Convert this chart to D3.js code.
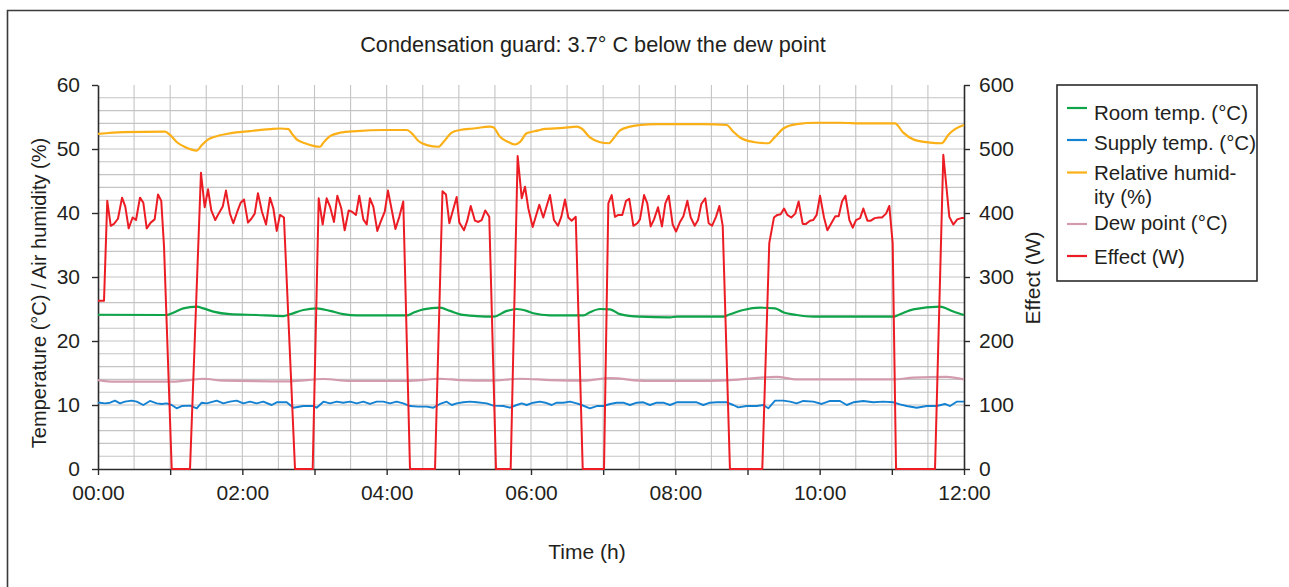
<!DOCTYPE html>
<html>
<head>
<meta charset="utf-8">
<script src="https://cdn.jsdelivr.net/npm/d3@7"></script>
<style>
  body { margin: 0; background: #fff; overflow: hidden; }
  svg { display: block; }
  svg text { font-family: "Liberation Sans", Arial, Helvetica, sans-serif; fill: #231f20; }
</style>
</head>
<body>
<svg id="chart" width="1289" height="587"></svg>
<script>
// all series are [minute after 00:00, value]
const roomTemp = [[0,24.1],[57,24.06],[62.6,24.4],[70.9,25.1],[82.1,25.36],[87.5,25.1],[95.9,24.6],[109.7,24.2],[131.9,24.06],[154.1,23.9],[159.6,24.17],[170.7,24.84],[181.8,25.1],[192.9,24.7],[203.9,24.2],[215.1,24.0],[256.7,24.0],[262.1,24.4],[270.5,24.95],[284.3,25.2],[292.7,24.7],[301,24.17],[314.9,23.9],[328.7,23.8],[339.8,24.7],[348.1,25.0],[356.4,24.7],[361.9,24.33],[375.8,24.0],[403.5,24.0],[409,24.5],[417.4,25.0],[425.7,24.95],[434,24.2],[450.6,23.8],[475.6,23.7],[481.1,23.8],[519.9,23.8],[525.4,24.17],[536.5,24.84],[550.4,25.2],[562.9,25.1],[569.8,24.5],[580.9,24.06],[594.7,23.8],[661.2,23.8],[666.8,24.17],[677.8,24.95],[700,25.36],[711.1,24.6],[720,24.06]];

const supplyTemp = [[0,10.36],[1.7,10.36],[5.8,10.26],[10,10.36],[14.1,10.68],[18.3,10.26],[22.4,10.52],[28,10.68],[32.2,10.52],[37.7,10.0],[43.2,10.63],[48.8,10.26],[53,10.16],[57.1,10.26],[61.3,10.0],[65.4,9.48],[69.6,9.84],[76.5,9.9],[82.1,9.48],[86.2,10.36],[90.4,10.26],[98.7,10.68],[104.2,10.26],[109.7,10.52],[115.3,10.68],[120.8,10.26],[126.4,10.52],[131.9,10.26],[137.4,10.52],[144.4,10.0],[148.6,10.42],[156.9,10.42],[162.4,9.58],[170.7,9.84],[179,9.84],[181.8,9.58],[187.4,10.52],[192.9,10.26],[198.5,10.52],[203.9,10.36],[209.5,10.52],[215.1,10.26],[220.6,10.52],[226.1,10.16],[231.7,10.52],[237.2,10.52],[242.8,10.26],[248.3,10.52],[253.8,10.26],[259.4,9.84],[266.3,9.74],[273.3,9.74],[278.8,9.58],[284.3,10.16],[289.9,10.52],[294.1,10.0],[298.2,10.26],[303.7,10.42],[309.3,10.52],[314.9,10.42],[323.2,10.26],[328.7,9.9],[337,9.84],[342.5,9.58],[348.1,10.0],[352.3,10.26],[356.4,10.0],[361.9,10.36],[367.5,10.52],[371.9,10.36],[377.2,10.0],[381.4,10.36],[386.9,10.36],[392.4,10.52],[398,10.26],[402.1,10.0],[409,9.48],[414.6,9.84],[420.1,9.84],[425.7,10.16],[431.2,10.36],[436.7,10.36],[442.3,10.0],[447.9,10.36],[453.4,10.42],[458.9,10.0],[464.5,10.36],[470,10.36],[475.6,10.0],[481.1,10.42],[489.4,10.42],[497.8,10.42],[503.2,10.0],[508.8,10.36],[514.4,10.42],[522.7,10.42],[528.2,10.0],[532.3,9.63],[539.3,9.84],[547.6,9.84],[553.1,10.0],[557.3,9.48],[562.9,10.68],[569.8,10.68],[575.3,10.52],[580.9,10.26],[586.4,10.63],[594.7,10.52],[601.7,10.16],[608.6,10.63],[616.9,10.63],[622.5,10.0],[628,10.42],[636.3,10.63],[644.6,10.42],[652.9,10.52],[661.2,10.42],[666.8,10.1],[672.4,9.84],[680.7,9.58],[689,9.84],[697.3,9.84],[704.2,10.16],[708.4,9.84],[713.9,10.52],[720,10.52]];

const relHumidity = [[0,52.35],[21,52.65],[55.7,52.7],[59.9,52.2],[65.4,51.1],[72.3,50.3],[82.1,49.75],[86.2,50.6],[91.7,51.5],[98.7,52.0],[109.7,52.45],[126.4,52.8],[143,53.1],[151.3,53.2],[158.3,53.1],[161,52.45],[165.2,51.5],[172.1,50.9],[179,50.5],[184.6,50.35],[187.4,51.0],[192.9,52.0],[201.3,52.55],[215.1,52.8],[237.3,52.97],[256.7,52.97],[260.9,52.45],[266.4,51.25],[273.4,50.6],[283,50.35],[287.2,51.1],[294.1,52.55],[301,52.97],[312.1,53.2],[325.9,53.5],[328.7,53.4],[334.2,51.9],[341.2,51.1],[346.7,50.7],[350.9,51.1],[356.4,52.45],[366.1,52.9],[370.2,53.1],[386.9,53.3],[398,53.5],[402.1,53.2],[409,51.8],[417.4,51.05],[424.8,50.9],[427.9,51.5],[434,52.9],[442.3,53.5],[450.6,53.75],[464.5,53.9],[503.2,53.9],[522.7,53.75],[528.2,52.7],[533.8,51.8],[544.8,51.1],[557.3,50.9],[562.9,51.9],[569.8,53.2],[580.9,53.9],[597.5,54.1],[616.9,54.1],[636.3,54.0],[662.6,54.0],[669.5,52.55],[677.8,51.5],[691.7,51.0],[701.5,50.9],[706.9,52.2],[712.5,53.1],[720,53.75]];

const dewPoint = [[0,13.9],[13.9,13.65],[62.6,13.65],[76.5,13.9],[87.5,14.1],[104.2,13.8],[159.6,13.7],[187.4,14.06],[209.5,13.75],[256.7,13.75],[284.3,14.1],[301,13.9],[325.9,13.8],[350.9,14.1],[375.8,13.9],[403.5,13.8],[425.7,14.2],[456.2,13.75],[497.7,13.75],[525.4,13.9],[564.3,14.4],[580.9,14.0],[661.2,14.0],[677.8,14.27],[705.6,14.4],[720,14.0]];

const effect = [[0,263],[5,263],[7.7,419],[10.6,380],[13.3,383],[16.6,391],[20,424],[22.7,410],[25.5,376],[28.8,393],[31.6,389],[34.9,424],[37.7,416],[40.5,376],[43.8,385],[47.1,390],[49.9,429],[52.6,419],[54.9,347],[61.3,0],[76.5,0],
  [85.6,463],[88.7,409],[91.5,437],[94.2,404],[97.5,389],[100.3,399],[103.7,410],[106.4,435],[109.7,399],[112.5,384],[115.8,402],[118.6,416],[121.4,421],[124.7,385],[127.5,391],[130.3,399],[133,431],[136.3,402],[139.7,382],[143,424],[145.8,407],[148.6,372],[151.3,397],[154.6,393],[163.8,0],[178.5,0],
  [183.5,423],[186.8,382],[190.1,423],[192.9,410],[196.2,386],[199,427],[202.3,407],[205.1,373],[208.4,404],[211.2,402],[214.5,397],[217.2,427],[220.6,390],[223.4,382],[226.1,423],[228.9,410],[232.2,372],[235,386],[238.4,402],[241.1,435],[247.3,375],[250.5,394],[253.8,418],[259.4,0],[280.2,0],
  [286.4,434],[289.3,429],[292.1,384],[298.2,425],[300.4,385],[304.3,373],[307,388],[309.9,411],[313.4,388],[316.2,386],[319,389],[322,404],[325.3,394],[330.9,0],[343.1,0],
  [348.9,489],[352.3,423],[355,441],[357.8,407],[361.4,378],[366.9,413],[370.2,393],[375.8,428],[379.1,389],[382.4,380],[385.2,394],[388.3,421],[391,393],[393.8,388],[397.2,394],[403,0],[420.7,0],
  [424.3,415],[427.1,428],[429.8,394],[432.6,397],[435.9,397],[439,419],[441.7,422],[445.1,380],[448.4,384],[450.6,390],[454,428],[456.7,415],[459.5,379],[462.3,390],[465.6,409],[468.9,379],[471.7,415],[474.5,427],[477.8,382],[480.6,371],[483.9,386],[486.7,395],[490,419],[492.8,393],[496.1,380],[498.9,389],[501.6,414],[504.9,423],[507.7,384],[510.5,380],[513.8,394],[516.6,411],[519.4,380],[525.4,0],[552.3,0],
  [558.1,353],[562,393],[564.8,397],[567.6,398],[570.4,407],[573.1,397],[576.4,393],[579.7,399],[582.5,418],[585.9,383],[588.6,383],[592,388],[594.7,389],[597.5,397],[600.3,427],[603.6,393],[606.4,373],[609.7,384],[613,395],[615.8,395],[618.6,418],[621.4,427],[624.7,389],[627.5,377],[630.2,389],[633.6,392],[636.3,407],[639.7,388],[642.5,388],[645.8,392],[649.1,393],[651.8,393],[655.2,399],[657.9,411],[660.7,353],[663.5,0],[695.9,0],
  [702.8,491],[707.8,394],[711.1,382],[714.4,390],[717.8,392],[720,392]];

const hourTicks = d3.range(0, 13);
const hourLabels = ["00:00", "", "02:00", "", "04:00", "", "06:00", "", "08:00", "", "10:00", "", "12:00"];
const leftTicks = [0, 10, 20, 30, 40, 50, 60];
const rightTicks = [0, 100, 200, 300, 400, 500, 600];

const legendItems = [
  { lines: ["Room temp. (°C)"], color: "#0fa44a" },
  { lines: ["Supply temp. (°C)"], color: "#1481d1" },
  { lines: ["Relative humid-", "ity (%)"], color: "#fbb017" },
  { lines: ["Dew point (°C)"], color: "#d39cae" },
  { lines: ["Effect (W)"], color: "#ec1c24" }
];

const svg = d3.select("#chart");
const plotL = 98, plotR = 964, plotT = 85, plotB = 469;

const x = d3.scaleLinear().domain([0, 720]).range([plotL, plotR]);
const yL = d3.scaleLinear().domain([0, 60]).range([plotB, plotT]);
const yR = d3.scaleLinear().domain([0, 600]).range([plotB, plotT]);

// outer frame: only the top and left edges fall inside the picture
svg.append("path")
  .attr("d", "M7.5,600V10.5H1300")
  .attr("fill", "none").attr("stroke", "#3a3a3a").attr("stroke-width", 1.6);

// grid
const grid = svg.append("g").attr("stroke", "#c4c4c4").attr("stroke-width", 1.1);
grid.selectAll(".h").data(d3.range(2, 60, 2)).enter().append("line")
  .attr("x1", plotL).attr("x2", plotR)
  .attr("y1", d => yL(d)).attr("y2", d => yL(d));
grid.selectAll(".v").data(d3.range(30, 720, 30)).enter().append("line")
  .attr("y1", plotT).attr("y2", plotB)
  .attr("x1", d => x(d)).attr("x2", d => x(d));

// axes
function styleAxis(g) {
  g.select(".domain").attr("stroke", "#2b2b2b").attr("stroke-width", 1.6);
  g.selectAll(".tick line").attr("stroke", "#2b2b2b").attr("stroke-width", 1.4);
  g.selectAll("text").attr("font-size", 21).attr("fill", "#231f20")
    .attr("font-family", "'Liberation Sans', Arial, sans-serif");
}

svg.append("g").attr("transform", `translate(${plotL},0)`)
  .call(d3.axisLeft(yL).tickValues(leftTicks).tickSize(6).tickSizeOuter(0).tickPadding(12))
  .call(styleAxis);

svg.append("g").attr("transform", `translate(${plotR},0)`)
  .call(d3.axisRight(yR).tickValues(rightTicks).tickSize(6).tickSizeOuter(0).tickPadding(9))
  .call(styleAxis);

svg.append("g").attr("transform", `translate(0,${plotB})`)
  .call(d3.axisBottom(x).tickValues(hourTicks.map(h => h * 60)).tickSize(6).tickSizeOuter(0).tickPadding(10)
    .tickFormat((d, i) => hourLabels[i]))
  .call(styleAxis);

// series
const smooth = d3.line().x(d => x(d[0])).curve(d3.curveMonotoneX);
const straight = d3.line().x(d => x(d[0]));

const plot = svg.append("g").attr("fill", "none").attr("stroke-linejoin", "round");

plot.append("path").datum(roomTemp)
  .attr("d", smooth.y(d => yL(d[1])))
  .attr("stroke", legendItems[0].color).attr("stroke-width", 2.2);

plot.append("path").datum(supplyTemp)
  .attr("d", straight.y(d => yL(d[1])))
  .attr("stroke", legendItems[1].color).attr("stroke-width", 1.9);

plot.append("path").datum(relHumidity)
  .attr("d", smooth.y(d => yL(d[1])))
  .attr("stroke", legendItems[2].color).attr("stroke-width", 2.2);

plot.append("path").datum(dewPoint)
  .attr("d", smooth.y(d => yL(d[1])))
  .attr("stroke", legendItems[3].color).attr("stroke-width", 2.2);

plot.append("path").datum(effect)
  .attr("d", straight.y(d => yR(d[1])))
  .attr("stroke", legendItems[4].color).attr("stroke-width", 2);

// titles
svg.append("text").attr("x", 593).attr("y", 52).attr("text-anchor", "middle")
  .attr("font-size", 21.7).text("Condensation guard: 3.7° C below the dew point");

svg.append("text").attr("x", 587).attr("y", 559).attr("text-anchor", "middle")
  .attr("font-size", 21).text("Time (h)");

svg.append("text").attr("transform", "translate(46,293) rotate(-90)").attr("text-anchor", "middle")
  .attr("font-size", 20).text("Temperature (°C) / Air humidity (%)");

svg.append("text").attr("transform", "translate(1040,278) rotate(-90)").attr("text-anchor", "middle")
  .attr("font-size", 21).text("Effect (W)");

// legend
const legend = svg.append("g");
legend.append("rect").attr("x", 1057).attr("y", 85).attr("width", 200).attr("height", 196)
  .attr("fill", "#fff").attr("stroke", "#2b2b2b").attr("stroke-width", 1.6);

const lineYs = [108, 140, 172.5, 224, 256];
const textYs = [120, 150, 179.5, 229.5, 263.5];
legendItems.forEach((item, i) => {
  legend.append("line")
    .attr("x1", 1067).attr("x2", 1087).attr("y1", lineYs[i]).attr("y2", lineYs[i])
    .attr("stroke", item.color).attr("stroke-width", 2.2);
  item.lines.forEach((t, j) => {
    legend.append("text").attr("x", 1094).attr("y", textYs[i] + j * 24)
      .attr("font-size", 20.5).text(t);
  });
});
</script>
</body>
</html>
